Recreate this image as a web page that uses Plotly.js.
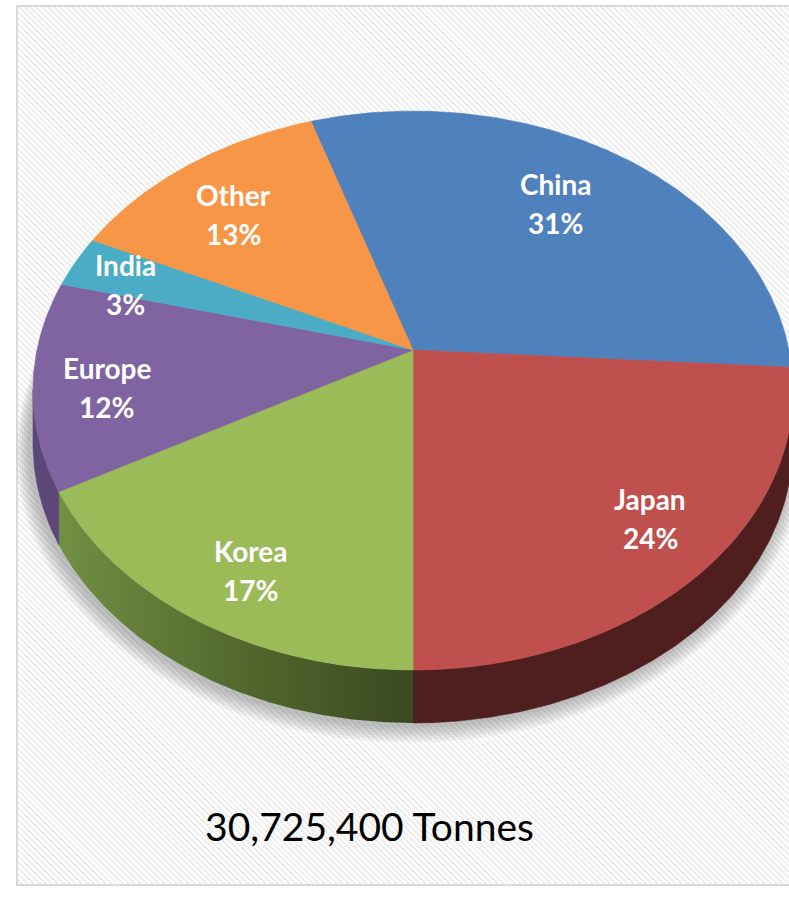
<!DOCTYPE html>
<html><head><meta charset="utf-8">
<script src="https://cdn.plot.ly/plotly-3.0.1.min.js"></script>
<style>
html,body{margin:0;padding:0;background:#fff;overflow:hidden}
#frame{position:absolute;left:16px;top:5px;width:800px;height:877px;border:2px solid #d9d9d9;
background:repeating-linear-gradient(45deg,#ffffff 0px,#ffffff 2.1px,#efefef 2.1px,#efefef 4.2px);}
#chart{position:absolute;left:0;top:0;width:789px;height:908px}
</style></head><body>
<div id="frame"></div><div id="chart"></div>
<script>
// ---- data ----
const categories = ['China', 'Japan', 'Korea', 'Europe', 'India', 'Other'];
const shares = [31, 24, 17, 12, 3, 13];
const totalLabel = '30,725,400 Tonnes';

// ---- styles ----
const topColors = ['#4f81bd', '#c0504d', '#9bbb59', '#8064a2', '#4bacc6', '#f79646'];
const sideColors = ['#2f4d72', '#4f1e1e', '#55702e', '#5b4778', '#2d6878', '#94582a'];
const sideGradients = {
  'Korea': [[0, '#728f42'], [0.5, '#53692e'], [1, '#3a4920']]
};
const labelRadius = [0.71, 0.81, 0.82, 0.81, 0.83, 0.74];

// ---- geometry of the tilted pie (layout constants) ----
const W = 789, H = 908;
const cx = 413, cy = 350, A = 376, B = 273.6, k = 0.145, depth = 53;
const rotation = 108;        // angle of first slice edge (deg), slices go clockwise
const labelAngleShift = 2.5;
const deg = Math.PI / 180;

function proj(tDeg, f) {
  const u = f * Math.cos(tDeg * deg), v = f * Math.sin(tDeg * deg);
  const s = 1 / (1 + k * v);
  return [cx + A * u * s, cy - B * v * s];
}
function arc(a, b) {
  const pts = [];
  const steps = Math.max(2, Math.ceil(Math.abs(b - a) / 0.5));
  for (let i = 0; i <= steps; i++) pts.push(proj(a + (b - a) * i / steps, 1));
  return pts;
}

const total = shares.reduce((s, v) => s + v, 0);
const tl = 180 + Math.asin(k) / deg, tr = 360 - Math.asin(k) / deg;

// soft shadow under the pie
const shadowTraces = [];
for (let j = 0; j < 6; j++) {
  const g = 1 + 0.006 * (j + 1);
  const pts = arc(0, 360).map(p => [cx + (p[0] - cx) * g - 3, cy + (p[1] - cy) * g + depth + 3 + j]);
  shadowTraces.push({
    type: 'scatter', mode: 'lines', x: pts.map(p => p[0]), y: pts.map(p => p[1]),
    fill: 'toself', fillcolor: 'rgba(90,90,90,0.07)', line: {width: 0},
    hoverinfo: 'skip', showlegend: false
  });
}

const sideTraces = [], topTraces = [], annotations = [];
let cum = 0;
categories.forEach((name, i) => {
  const t0 = rotation - cum / total * 360;
  const t1 = t0 - shares[i] / total * 360;
  cum += shares[i];

  // top face
  const a = arc(t0, t1);
  const xs = [cx].concat(a.map(p => p[0]), [cx]);
  const ys = [cy].concat(a.map(p => p[1]), [cy]);
  topTraces.push({
    type: 'scatter', mode: 'lines', x: xs, y: ys, fill: 'toself',
    fillcolor: topColors[i], line: {color: topColors[i], width: 0.6},
    hoverinfo: 'skip', showlegend: false, name: name
  });

  // visible side (front rim)
  [[tl, tr], [tl - 360, tr - 360]].forEach(([lo, hi]) => {
    const s0 = Math.max(t1, lo), s1 = Math.min(t0, hi);
    if (s1 > s0) {
      const up = arc(s0, s1);
      const down = up.slice().reverse().map(p => [p[0], p[1] + depth]);
      const all = up.concat(down, [up[0]]);
      const tr_ = {
        type: 'scatter', mode: 'lines', x: all.map(p => p[0]), y: all.map(p => p[1]),
        fill: 'toself', fillcolor: sideColors[i], line: {color: sideColors[i], width: 0.6},
        hoverinfo: 'skip', showlegend: false, name: name + ' side'
      };
      if (sideGradients[name]) {
        tr_.fillgradient = {type: 'horizontal', colorscale: sideGradients[name]};
        tr_.line = {width: 0};
      }
      sideTraces.push(tr_);
    }
  });

  // labels
  const mid = (t0 + t1) / 2 + labelAngleShift;
  const [lx, ly] = proj(mid, labelRadius[i]);
  const font = {family: 'Lato, "Open Sans", sans-serif', size: 28, color: '#ffffff', weight: 'bold'};
  annotations.push({x: lx, y: ly - 20, xref: 'x', yref: 'y', text: '<b>' + name + '</b>', showarrow: false, font: font});
  annotations.push({x: lx, y: ly + 19, xref: 'x', yref: 'y', text: '<b>' + shares[i] + '%</b>', showarrow: false, font: font});
});

const layout = {
  width: W, height: H,
  margin: {l: 0, r: 0, t: 0, b: 0, pad: 0},
  paper_bgcolor: 'rgba(0,0,0,0)', plot_bgcolor: 'rgba(0,0,0,0)',
  xaxis: {range: [0, W], visible: false, fixedrange: true},
  yaxis: {range: [H, 0], visible: false, fixedrange: true},
  showlegend: false,
  title: {
    text: totalLabel, x: 369.5 / W, xanchor: 'center', y: 1 - 827 / H, yanchor: 'middle',
    font: {family: 'Lato, "Open Sans", sans-serif', size: 39, color: '#000000'}
  },
  annotations: annotations
};

Plotly.newPlot('chart', shadowTraces.concat(sideTraces, topTraces), layout, {staticPlot: true, displayModeBar: false});
</script>
</body></html>
